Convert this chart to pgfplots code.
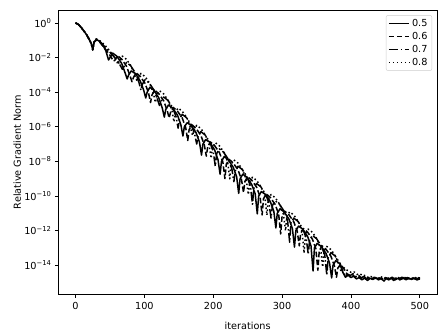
\documentclass[border=0pt]{standalone}
\usepackage{fontspec}
\setmainfont{DejaVu Sans}
\usepackage{pgfplots}
\pgfplotsset{compat=1.18}

\begin{document}
\fontsize{9.7}{11.6}\selectfont
\begin{tikzpicture}
\begin{axis}[
    scale only axis,
    width=378.7pt, height=284.5pt,
    ymode=log,
    xmin=-25, xmax=525,
    ymin=2e-16, ymax=5.6,
    xtick={0,100,...,500},
    ytick={1,1e-2,1e-4,1e-6,1e-8,1e-10,1e-12,1e-14},
    yticklabels={10\textsuperscript{0},10\textsuperscript{−2},10\textsuperscript{−4},10\textsuperscript{−6},10\textsuperscript{−8},10\textsuperscript{−10},10\textsuperscript{−12},10\textsuperscript{−14}},
    yminorticks=false,
    xtick pos=bottom, ytick pos=left,
    /pgf/number format/assume math mode=true,
    tick align=outside,
    major tick length=3.4pt,
    tick style={black, line width=0.8pt},
    axis line style={line width=0.8pt},
    xticklabel style={yshift=-0.5pt},
    xlabel={iterations},
    ylabel={Relative Gradient Norm},
    every axis x label/.style={at={([yshift=-31.5pt]axis description cs:0.5,0)}, anchor=center},
    every axis y label/.style={at={([xshift=-41pt]axis description cs:0,0.5)}, anchor=center, rotate=90},
    legend style={at={(0.987,0.982)}, anchor=north east, draw=black!20, rounded corners=2pt,
        inner xsep=2pt, inner ysep=1.5pt, row sep=-0.5pt,
        nodes={inner sep=2.4pt}},
    legend cell align=left,
    legend image code/.code={\draw[#1] (0pt,0pt) -- (20pt,0pt);},
    every axis plot/.append style={black, line width=1.5pt, line join=round, line cap=butt},
]
% eta = 0.5
\addplot[solid] coordinates {
(0,1) (4,8.3e-1) (8,5.6e-1) (12,3.5e-1) (16,2.1e-1) (20,1.1e-1) (23,6.3e-2) (25,2.8e-2) (27,7.9e-2)
(30,1.1e-1) (35,8.9e-2) (40,5.0e-2) (44,2.5e-2)
(48,7.2e-3) (50,9.8e-3) (54,1.8e-2) (60,1.2e-2) (67,4.6e-3) (72,1.3e-3)
(75,5.8e-4) (77,9.5e-4) (81,1.7e-3) (87,1.2e-3) (94,4.4e-4) (99,1.3e-4)
(102,4.6e-5) (104,9.8e-5) (108,1.9e-4) (114,1.3e-4) (121,4.6e-5) (126,1.2e-5)
(129,3.6e-6) (131,9.8e-6) (135,1.8e-5) (141,1.2e-5) (148,4.8e-6) (153,1.3e-6)
(156,2.9e-7) (158,9.6e-7) (162,1.7e-6) (168,1.2e-6) (175,4.6e-7) (180,1.3e-7)
(183,2.3e-8) (185,9.8e-8) (189,1.8e-7) (195,1.3e-7) (202,4.6e-8) (207,1.2e-8)
(210,1.8e-9) (212,9.8e-9) (216,1.9e-8) (222,1.2e-8) (229,4.6e-9) (234,1.3e-9)
(237,1.4e-10) (239,9.8e-10) (243,1.8e-9) (249,1.2e-9) (256,4.5e-10) (261,1.3e-10)
(264,9.1e-12) (266,9.8e-11) (270,1.8e-10) (276,1.2e-10) (283,4.6e-11) (288,1.3e-11)
(291,1.4e-12) (293,9.8e-12) (297,1.8e-11) (303,1.2e-11) (310,4.6e-12) (315,1.3e-12)
(318,1.1e-13) (320,9.8e-13) (324,1.8e-12) (330,1.2e-12) (337,4.6e-13) (342,1.3e-13)
(345,4.6e-15) (347,9.8e-14) (351,1.8e-13) (357,1.2e-13) (364,4.6e-14) (369,1.3e-14)
(372,1.8e-15) (374,9.8e-15) (378,1.8e-14) (384,1.2e-14) (388,4.0e-15)
(392,2.0e-15) (396,2.6e-15) (400,1.9e-15) (404,2.3e-15) (408,1.6e-15) (412,1.9e-15) (416,1.4e-15)
(420,1.8e-15) (424,1.3e-15) (428,1.7e-15) (432,1.5e-15) (436,1.9e-15) (440,1.4e-15) (444,1.7e-15)
(448,1.2e-15) (452,1.8e-15) (456,1.5e-15) (460,2.0e-15) (464,1.4e-15) (468,1.7e-15) (472,1.5e-15)
(476,1.9e-15) (480,1.4e-15) (484,1.8e-15) (488,1.5e-15) (492,1.7e-15) (496,1.4e-15) (500,1.6e-15)
};
\addlegendentry{0.5}
% eta = 0.6
\addplot[dash pattern=on 5.55pt off 2.4pt] coordinates {
(0,1) (4,8.3e-1) (8,5.6e-1) (12,3.5e-1) (16,2.1e-1) (20,1.1e-1) (23,6.3e-2) (25,2.8e-2) (27,7.9e-2)
(31,1.05e-1) (36,7.1e-2) (42,3.5e-2) (48,1.8e-2) (52,1.0e-2)
(55,6.3e-3) (57,6.8e-3) (61,1.3e-2) (67,8.1e-3) (74,3.2e-3) (79,9.1e-4)
(82,4.0e-4) (84,6.8e-4) (88,1.3e-3) (94,8.1e-4) (101,3.2e-4) (106,9.1e-5)
(109,2.5e-5) (111,6.8e-5) (115,1.3e-4) (121,8.1e-5) (128,3.2e-5) (133,9.1e-6)
(136,3.2e-6) (138,6.8e-6) (142,1.3e-5) (148,8.1e-6) (155,3.2e-6) (160,9.1e-7)
(163,1.6e-7) (165,6.8e-7) (169,1.3e-6) (175,8.1e-7) (182,3.2e-7) (187,9.1e-8)
(190,2.0e-8) (192,6.8e-8) (196,1.3e-7) (202,8.1e-8) (209,3.2e-8) (214,9.1e-9)
(217,1.0e-9) (219,6.8e-9) (223,1.3e-8) (229,8.1e-9) (236,3.2e-9) (241,9.1e-10)
(244,1.6e-10) (246,6.8e-10) (250,1.3e-9) (256,8.1e-10) (263,3.2e-10) (268,9.1e-11)
(271,7.9e-12) (273,6.8e-11) (277,1.3e-10) (283,8.1e-11) (290,3.2e-11) (295,9.1e-12)
(298,6.3e-13) (300,6.8e-12) (304,1.3e-11) (310,8.1e-12) (317,3.2e-12) (322,9.1e-13)
(325,1.3e-13) (327,6.8e-13) (331,1.3e-12) (337,8.1e-13) (344,3.2e-13) (349,9.1e-14)
(352,5.0e-15) (354,6.8e-14) (358,1.3e-13) (364,8.1e-14) (371,3.2e-14) (376,9.1e-15)
(379,2.0e-15) (381,6.8e-15) (385,1.1e-14) (390,6.0e-15)
(394,3.2e-15) (398,2.4e-15) (402,2.9e-15) (406,2.0e-15) (410,2.4e-15) (414,1.7e-15) (418,2.1e-15)
(422,1.5e-15) (426,1.9e-15) (430,1.6e-15) (434,2.0e-15) (438,1.5e-15) (442,1.8e-15) (446,1.4e-15)
(450,1.9e-15) (454,1.6e-15) (458,1.8e-15) (462,1.3e-15) (466,1.7e-15) (470,1.6e-15) (474,2.0e-15)
(478,1.5e-15) (482,1.9e-15) (486,1.4e-15) (490,1.8e-15) (494,1.6e-15) (498,1.7e-15) (500,1.5e-15)
};
\addlegendentry{0.6}
% eta = 0.7
\addplot[dash pattern=on 9.6pt off 2.4pt on 1.5pt off 2.4pt] coordinates {
(0,1) (4,8.3e-1) (8,5.6e-1) (12,3.5e-1) (16,2.1e-1) (20,1.1e-1) (23,6.3e-2) (25,2.8e-2) (27,7.9e-2)
(30,1.2e-1) (36,7.9e-2) (43,4.0e-2) (50,2.0e-2) (56,1.1e-2) (62,5.6e-3) (65,3.5e-3)
(68,2.1e-3) (70,2.8e-3) (74,5.2e-3) (80,3.4e-3) (87,1.3e-3) (92,3.8e-4)
(95,1.3e-4) (97,2.8e-4) (101,5.2e-4) (107,3.4e-4) (114,1.3e-4) (119,3.8e-5)
(122,1.7e-5) (124,2.8e-5) (128,5.2e-5) (134,3.4e-5) (141,1.3e-5) (146,3.8e-6)
(149,8.3e-7) (151,2.8e-6) (155,5.2e-6) (161,3.4e-6) (168,1.3e-6) (173,3.8e-7)
(176,1.0e-7) (178,2.8e-7) (182,5.2e-7) (188,3.4e-7) (195,1.3e-7) (200,3.8e-8)
(203,5.2e-9) (205,2.8e-8) (209,5.2e-8) (215,3.4e-8) (222,1.3e-8) (227,3.8e-9)
(230,6.6e-10) (232,2.8e-9) (236,5.2e-9) (242,3.4e-9) (249,1.3e-9) (254,3.8e-10)
(257,3.3e-11) (259,2.8e-10) (263,5.2e-10) (269,3.4e-10) (276,1.3e-10) (281,3.8e-11)
(284,5.2e-12) (286,2.8e-11) (290,5.2e-11) (296,3.4e-11) (303,1.3e-11) (308,3.8e-12)
(311,2.1e-13) (313,2.8e-12) (317,5.2e-12) (323,3.4e-12) (330,1.3e-12) (335,3.8e-13)
(338,4.2e-14) (340,2.8e-13) (344,5.2e-13) (350,3.4e-13) (357,1.3e-13) (362,3.8e-14)
(365,2.6e-15) (367,2.8e-14) (371,5.2e-14) (377,3.4e-14) (384,1.3e-14) (389,3.8e-15)
(392,2.2e-15) (395,3.0e-15) (399,2.5e-15) (403,3.2e-15) (407,2.2e-15) (411,2.6e-15) (415,1.8e-15)
(419,2.2e-15) (423,1.6e-15) (427,2.0e-15) (431,1.5e-15) (435,1.8e-15) (439,1.6e-15) (443,2.0e-15)
(447,1.5e-15) (451,1.7e-15) (455,1.4e-15) (459,1.9e-15) (463,1.6e-15) (467,1.8e-15) (471,1.4e-15)
(475,1.7e-15) (479,1.6e-15) (483,2.0e-15) (487,1.5e-15) (491,1.8e-15) (495,1.5e-15) (499,1.9e-15) (500,1.7e-15)
};
\addlegendentry{0.7}
% eta = 0.8
\addplot[dash pattern=on 1.5pt off 2.475pt] coordinates {
(0,1) (4,8.3e-1) (8,5.6e-1) (12,3.5e-1) (16,2.1e-1) (20,1.1e-1) (23,6.3e-2) (25,2.8e-2) (27,7.9e-2)
(31,1.15e-1) (37,8.5e-2) (44,4.5e-2) (50,2.3e-2) (55,1.3e-2) (59,7.0e-3)
(62,3.9e-3) (64,6.6e-3) (68,1.2e-2) (74,7.9e-3) (81,3.1e-3) (86,8.9e-4)
(89,4.9e-4) (91,6.6e-4) (95,1.2e-3) (101,7.9e-4) (108,3.1e-4) (113,8.9e-5)
(116,2.5e-5) (118,6.6e-5) (122,1.2e-4) (128,7.9e-5) (135,3.1e-5) (140,8.9e-6)
(143,1.9e-6) (145,6.6e-6) (149,1.2e-5) (155,7.9e-6) (162,3.1e-6) (167,8.9e-7)
(170,3.1e-7) (172,6.6e-7) (176,1.2e-6) (182,7.9e-7) (189,3.1e-7) (194,8.9e-8)
(197,1.5e-8) (199,6.6e-8) (203,1.2e-7) (209,7.9e-8) (216,3.1e-8) (221,8.9e-9)
(224,9.8e-10) (226,6.6e-9) (230,1.2e-8) (236,7.9e-9) (243,3.1e-9) (248,8.9e-10)
(251,1.2e-10) (253,6.6e-10) (257,1.2e-9) (263,7.9e-10) (270,3.1e-10) (275,8.9e-11)
(278,7.8e-12) (280,6.6e-11) (284,1.2e-10) (290,7.9e-11) (297,3.1e-11) (302,8.9e-12)
(305,9.8e-13) (307,6.6e-12) (311,1.2e-11) (317,7.9e-12) (324,3.1e-12) (329,8.9e-13)
(332,4.9e-14) (334,6.6e-13) (338,1.2e-12) (344,7.9e-13) (351,3.1e-13) (356,8.9e-14)
(359,7.8e-15) (361,6.6e-14) (365,1.2e-13) (371,7.9e-14) (378,3.1e-14) (383,8.9e-15)
(386,4.0e-15) (389,7.5e-15) (393,5.5e-15) (397,4.5e-15) (401,3.6e-15) (405,4.0e-15) (409,2.9e-15)
(413,3.2e-15) (417,2.4e-15) (421,2.6e-15) (425,1.9e-15) (429,2.2e-15) (433,1.7e-15) (437,2.0e-15)
(441,1.6e-15) (445,2.1e-15) (449,1.7e-15) (453,1.9e-15) (457,1.5e-15) (461,2.0e-15) (465,1.7e-15)
(469,1.9e-15) (473,1.5e-15) (477,2.1e-15) (481,1.6e-15) (485,1.9e-15) (489,1.7e-15) (493,2.0e-15)
(497,1.6e-15) (500,1.8e-15)
};
\addlegendentry{0.8}
\end{axis}
\pgfresetboundingbox
\path[use as bounding box] (-58.3pt,-41.5pt) rectangle (389.7pt,294.5pt);
\end{tikzpicture}
\end{document}
